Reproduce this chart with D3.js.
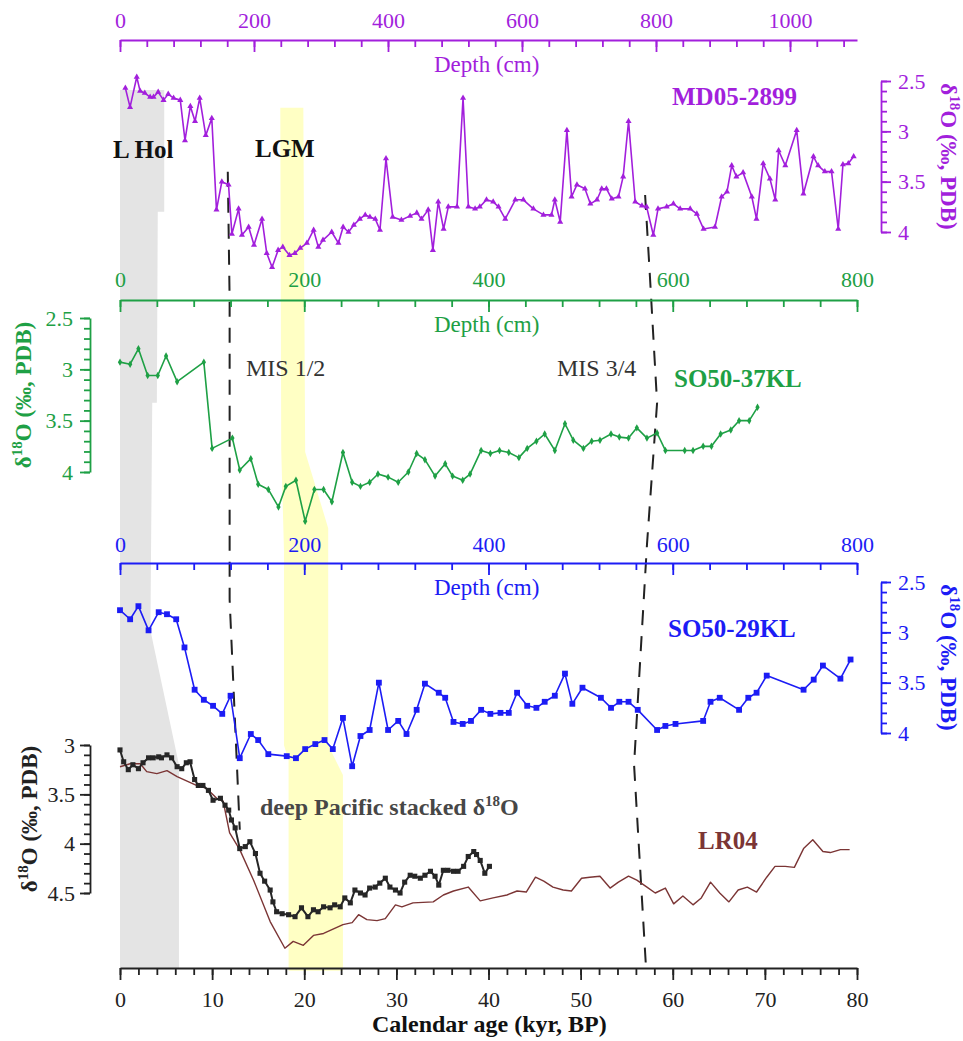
<!doctype html>
<html lang="en">
<head>
<meta charset="utf-8">
<title>Benthic d18O records</title>
<style>
  body { margin: 0; background: #fff; }
  svg text { font-family: "Liberation Serif", "Times New Roman", serif; }
  .tick text { font-size: 22px; }
  .axis line, .axis path { stroke-width: 1.8px; }
</style>
</head>
<body>
<svg id="chart" width="963" height="1041"></svg>
<script src="https://cdn.jsdelivr.net/npm/d3@7"></script>
<script>
// MD05-2899 : depth (cm) vs d18O
const mdDepth = [8,15,25,30,37,45,50,57,65,72, 80,90,97,105,112,119,128,137,144,152,
  162,167,177,182,192,200,212,219,227,236, 243,253,261,269,279,289,296,303,316,326,
  333,341,349,358,366,373,381,388,397,407, 420,433,443,450,460,467,475,483,490,503,
  512,520,530,537,547,557,565,575,590,602, 617,632,644,649,657,667,674,682,694,702,
  712,719,726,734,744,751,759,769,779,786, 796,803,816,826,836,851,861,871,888,898,
  906,913,920,930,943,950,960,970,978,983, 993,1010,1020,1035,1042,1052,1062,1072,1079,1087,1095];
const mdD18O = [2.57,2.76,2.46,2.60,2.62,2.66,2.66,2.61,2.69,2.63, 2.67,2.69,3.09,2.75,2.90,2.67,3.04,2.87,3.78,3.50,
  3.53,4.02,3.77,4.03,3.95,4.13,3.87,4.21,4.35,4.18, 4.15,4.23,4.21,4.16,4.11,3.98,4.15,4.08,4.00,4.11,
  3.95,4.00,3.93,3.87,3.83,3.85,3.87,3.98,3.27,3.85, 3.88,3.84,3.81,3.87,3.78,4.18,3.70,3.97,3.75,3.75,
  2.67,3.75,3.77,3.75,3.68,3.70,3.75,3.87,3.68,3.68, 3.77,3.83,3.83,3.68,3.90,2.99,3.65,3.53,3.57,3.72,
  3.68,3.57,3.57,3.67,3.65,3.45,2.90,3.70,3.74,3.75, 4.03,3.77,3.75,3.72,3.77,3.77,3.82,3.97,3.95,3.65,
  3.60,3.34,3.45,3.41,3.65,3.87,3.32,3.47,3.68,3.19, 3.34,2.99,3.62,3.25,3.34,3.40,3.40,3.97,3.33,3.32,3.25];

// SO50-37KL : depth (cm) vs d18O
const kl37Depth = [0,11,20,30,41,50,62,91,100,122, 130,142,150,161,172,180,191,201,211,221,
  230,242,252,261,271,280,291,302,313,322, 331,342,353,361,372,380,392,402,412,422,
  433,442,452,461,472,483,492,503,512,521, 533,542,552,561,572,583,592,613,622,633,
  642,652,663,672,683,692];
const kl37D18O = [2.93,2.95,2.80,3.06,3.06,2.87,3.12,2.93,3.77,3.67, 3.98,3.87,4.12,4.17,4.34,4.14,4.08,4.48,4.17,4.17,
  4.29,3.81,4.10,4.14,4.10,4.02,4.05,4.10,4.00,3.82, 3.88,4.04,3.92,4.04,4.08,4.02,3.79,3.82,3.79,3.81,
  3.86,3.77,3.70,3.63,3.79,3.53,3.69,3.77,3.70,3.69, 3.63,3.66,3.67,3.57,3.67,3.62,3.79,3.79,3.79,3.75,
  3.75,3.63,3.59,3.50,3.50,3.37];

// SO50-29KL : depth (cm) vs d18O
const kl29Depth = [0,11,20,31,42,51,61,70,81,91, 101,111,120,130,142,150,161,181,191,201,
  212,222,231,242,252,261,271,281,291,302, 311,322,331,346,353,362,372,381,392,402,
  413,422,431,442,452,461,472,483,491,502, 522,533,542,552,562,583,592,603,633,641,
  651,672,682,691,702,742,753,763,782,793];
const kl29D18O = [2.78,2.87,2.74,2.98,2.80,2.82,2.87,3.15,3.57,3.67, 3.73,3.81,3.63,4.25,4.01,4.07,4.21,4.23,4.25,4.16,
  4.11,4.07,4.16,3.85,4.33,4.03,3.97,3.50,3.97,3.88, 4.01,3.77,3.51,3.60,3.65,3.89,3.91,3.88,3.77,3.81,
  3.80,3.80,3.60,3.73,3.75,3.69,3.63,3.41,3.71,3.55, 3.65,3.75,3.69,3.69,3.77,3.97,3.93,3.91,3.88,3.69,
  3.65,3.77,3.65,3.60,3.43,3.57,3.47,3.33,3.46,3.27];

// deep Pacific stack : calendar age (kyr) vs d18O
const stackAge = [0.0,0.4,0.9,1.4,2.0,2.5,3.1,3.6,4.2,4.5, 5.1,5.6,6.2,6.7,7.2,7.6,8.1,8.5,9.0,9.6,
  10.1,10.9,11.4,11.8,12.1,12.5,13.0,13.6,14.1,14.7, 15.2,15.7,16.3,16.6,17.0,17.6,18.3,19.0,19.7,20.4,
  21.0,21.5,22.1,22.8,23.3,23.9,24.4,25.0,25.5,26.1, 26.6,27.1,27.7,28.2,28.8,29.3,29.9,30.4,30.9,31.5,
  32.0,32.6,33.1,33.7,34.2,34.6,35.1,35.6,36.2,36.7, 37.3,37.8,38.4,38.7,39.1,39.6,40.1];
const stackD18O = [3.05,3.17,3.25,3.20,3.24,3.18,3.13,3.13,3.12,3.13, 3.10,3.13,3.22,3.24,3.18,3.17,3.35,3.41,3.41,3.46,
  3.56,3.54,3.61,3.66,3.76,3.84,4.05,4.03,3.98,4.10, 4.30,4.38,4.47,4.59,4.69,4.71,4.72,4.74,4.65,4.74,
  4.67,4.69,4.64,4.65,4.62,4.64,4.55,4.60,4.47,4.50, 4.52,4.45,4.44,4.40,4.35,4.44,4.47,4.50,4.39,4.32,
  4.33,4.35,4.32,4.28,4.33,4.42,4.27,4.27,4.28,4.28, 4.23,4.13,4.08,4.11,4.17,4.30,4.23];

// LR04 : calendar age (kyr) vs d18O
const lrAge = [0,1.1,2.2,2.9,4.0,5.1,6.2,8.3,9.4,10.5, 11.2,11.9,13.0,14.5,16.3,17.9,18.8,19.9,21.0,22.1,
  24.2,25.2,25.9,26.8,27.9,28.8,29.9,30.6,31.8,34.0, 35.1,36.2,37.8,39.1,40.5,42.0,43.1,44.1,45.1,46.0,
  47.0,48.1,49.0,50.1,51.0,52.1,53.2,54.1,55.2,56.1, 57.2,58.1,59.2,60.1,61.1,62.2,63.1,64.1,65.1,66.1,
  67.1,68.1,69.1,70.2,71.1,72.2,73.2,74.2,75.2,76.3, 77.1,78.2,79.2];
const lrD18O = [3.22,3.19,3.19,3.27,3.29,3.26,3.32,3.41,3.44,3.54, 3.57,3.89,4.06,4.37,4.79,5.06,4.99,5.03,4.93,4.91,
  4.82,4.80,4.72,4.77,4.78,4.76,4.62,4.64,4.60,4.59, 4.52,4.48,4.44,4.58,4.55,4.52,4.48,4.49,4.34,4.38,
  4.44,4.47,4.48,4.35,4.34,4.33,4.45,4.39,4.33,4.37, 4.44,4.50,4.45,4.61,4.53,4.62,4.55,4.39,4.50,4.59,
  4.47,4.44,4.49,4.34,4.23,4.23,4.24,4.05,3.96,4.08, 4.09,4.06,4.06];

// shaded bands and boundaries: [calendar age (kyr), fraction of plot height from top]
const holBand = [[0,0.054],[4.8,0.054],[4.8,0.185],[4.1,0.185],[4.0,0.391],[3.5,0.391],[3.3,0.636],
  [6.4,0.781],[6.4,1],[0,1]];
const lgmBand = [[17.4,0.073],[19.9,0.073],[20.1,0.444],[22.6,0.526],[22.6,0.760],[24.2,0.792],[24.2,1.003],
  [18.3,1.003],[18.3,0.776],[17.8,0.760],[17.8,0.550],[17.5,0.442]];
const mis12 = [[11.7,0.142],[11.9,0.280],[11.9,0.603],[13.0,0.851]];
const mis34 = [[57.0,0.167],[57.5,0.251],[58.3,0.391],[57.2,0.544],[55.8,0.781],[57.1,1]];

const colMD = "#a21fdc", col37 = "#1ea045", col29 = "#1c1cf5", colStack = "#262626", colLR = "#7b3535";
const serif = "'Liberation Serif', 'Times New Roman', serif";

const svg = d3.select("#chart");

const xAge = d3.scaleLinear().domain([0, 80]).range([120, 857]);
const xMD = d3.scaleLinear().domain([0, 1100]).range([120, 857]);
const xKL = d3.scaleLinear().domain([0, 800]).range([120, 857]);
const yMD = d3.scaleLinear().domain([2.5, 4]).range([81, 232]);
const y37 = d3.scaleLinear().domain([2.5, 4]).range([318, 472]);
const y29 = d3.scaleLinear().domain([2.5, 4]).range([582, 733]);
const yStack = d3.scaleLinear().domain([3, 4.5]).range([745, 893]);
const yFig = d3.scaleLinear().domain([0, 1]).range([40, 968]);

// bands
const figLine = d3.line().x(d => xAge(d[0])).y(d => yFig(d[1]));
svg.append("path").attr("d", figLine(holBand) + "Z").attr("fill", "#e4e4e4");
svg.append("path").attr("d", figLine(lgmBand) + "Z").attr("fill", "#ffffc4");

for (const b of [mis12, mis34]) {
    svg.append("path")
        .attr("d", figLine(b))
        .attr("fill", "none")
        .attr("stroke", "#222")
        .attr("stroke-width", 2)
        .attr("stroke-dasharray", "15,11");
}

// axes
function range10(a, b) { return d3.range(a * 10, b * 10 + 1).map(v => v / 10); }

function hAxis(gen, scale, y, color, minors, majors, pad) {
    const g = svg.append("g").attr("class", "axis").attr("transform", `translate(0,${y})`).style("color", color);
    const sign = gen === d3.axisTop ? -1 : 1;
    g.append("g").call(gen(scale).tickValues(minors).tickSize(sign * 7).tickFormat("").tickSizeOuter(0))
        .select(".domain").remove();
    g.append("g").call(gen(scale).tickValues(majors).tickSize(sign * 12).tickPadding(pad).tickSizeOuter(0).tickFormat(d => d))
        .attr("font-family", serif)
        .selectAll(".tick text").attr("fill", color);
}

function vAxis(gen, scale, x, color, lo, hi, pad) {
    const g = svg.append("g").attr("class", "axis").attr("transform", `translate(${x},0)`).style("color", color);
    g.append("g").call(gen(scale).tickValues(range10(lo, hi)).tickSize(6).tickFormat("").tickSizeOuter(0))
        .select(".domain").remove();
    g.append("g").call(gen(scale).tickValues(d3.range(lo, hi + 0.01, 0.5)).tickSize(10).tickPadding(pad).tickSizeOuter(0).tickFormat(d => d))
        .attr("font-family", serif);
}

hAxis(d3.axisTop, xMD, 40, colMD, d3.range(0, 1081, 40), d3.range(0, 1001, 200), 12);
hAxis(d3.axisTop, xKL, 300, col37, d3.range(0, 801, 40), d3.range(0, 801, 200), 13);
hAxis(d3.axisTop, xKL, 563, col29, d3.range(0, 801, 40), d3.range(0, 801, 200), 11);
hAxis(d3.axisBottom, xAge, 968, "#222", d3.range(0, 81, 2), d3.range(0, 81, 10), 11);

vAxis(d3.axisRight, yMD, 881, colMD, 2.5, 4, 7);
vAxis(d3.axisLeft, y37, 90, col37, 2.5, 4, 7);
vAxis(d3.axisRight, y29, 881, col29, 2.5, 4, 7);
vAxis(d3.axisLeft, yStack, 90, "#222", 3, 4.5, 5);

// series
function series(xs, ys, xScale, yScale, color, width, symbol, size) {
    const pts = xs.map((x, i) => [x, ys[i]]);
    svg.append("path")
        .datum(pts)
        .attr("fill", "none")
        .attr("stroke", color)
        .attr("stroke-width", width)
        .attr("stroke-linejoin", "round")
        .attr("d", d3.line().x(d => xScale(d[0])).y(d => yScale(d[1])));
    if (symbol) {
        svg.append("g").selectAll("path")
            .data(pts)
            .join("path")
            .attr("transform", d => `translate(${xScale(d[0])},${yScale(d[1])})`)
            .attr("d", d3.symbol().type(symbol).size(size))
            .attr("fill", color);
    }
}

series(lrAge, lrD18O, xAge, yStack, colLR, 1.4, null, 0);
series(stackAge, stackD18O, xAge, yStack, colStack, 2, d3.symbolSquare, 26);
series(kl29Depth, kl29D18O, xKL, y29, col29, 1.6, d3.symbolSquare, 34);
series(kl37Depth, kl37D18O, xKL, y37, col37, 1.6, d3.symbolDiamond, 16);
series(mdDepth, mdD18O, xMD, yMD, colMD, 1.6, d3.symbolTriangle, 16);

// axis titles
function depthTitle(y, color) {
    svg.append("text").attr("x", 434).attr("y", y).attr("fill", color)
        .style("font-size", "23px").text("Depth (cm)");
}
depthTitle(72, colMD);
depthTitle(332, col37);
depthTitle(595, col29);

svg.append("text").attr("x", 372).attr("y", 1032).attr("fill", "#111")
    .style("font-size", "24px").style("font-weight", "bold").text("Calendar age (kyr, BP)");

function d18Title(x, yc, rot, color) {
    const t = svg.append("text")
        .attr("transform", `translate(${x},${yc}) rotate(${rot})`)
        .attr("text-anchor", "middle")
        .attr("fill", color)
        .style("font-size", "23px")
        .style("font-weight", "bold");
    t.append("tspan").text("δ");
    t.append("tspan").attr("dy", -9).style("font-size", "15px").text("18");
    t.append("tspan").attr("dy", 9).text("O (‰, PDB)");
}
d18Title(941, yMD(3.25), 90, colMD);
d18Title(31, y37(3.25), -90, col37);
d18Title(941, y29(3.25), 90, col29);
d18Title(37, yStack(3.75), -90, "#222");

// annotations
function label(txt, x, y, color, size, bold) {
    return svg.append("text").attr("x", x).attr("y", y).attr("fill", color)
        .style("font-size", size + "px").style("font-weight", bold ? "bold" : "normal").text(txt);
}
label("MD05-2899", 672, 105, colMD, 25, true);
label("L Hol", 113, 158, "#111", 25, true);
label("LGM", 255, 157, "#111", 25, true);
label("MIS 1/2", 246, 376, "#333", 24, false);
label("MIS 3/4", 557, 376, "#333", 24, false);
label("SO50-37KL", 674, 387, col37, 25, true);
label("SO50-29KL", 668, 637, col29, 25, true);
label("LR04", 698, 849, colLR, 25, true);
const dp = label("deep Pacific stacked δ", 260, 815, "#474747", 24, true);
dp.append("tspan").attr("dy", -9).style("font-size", "15px").text("18");
dp.append("tspan").attr("dy", 9).text("O");
</script>
</body>
</html>
